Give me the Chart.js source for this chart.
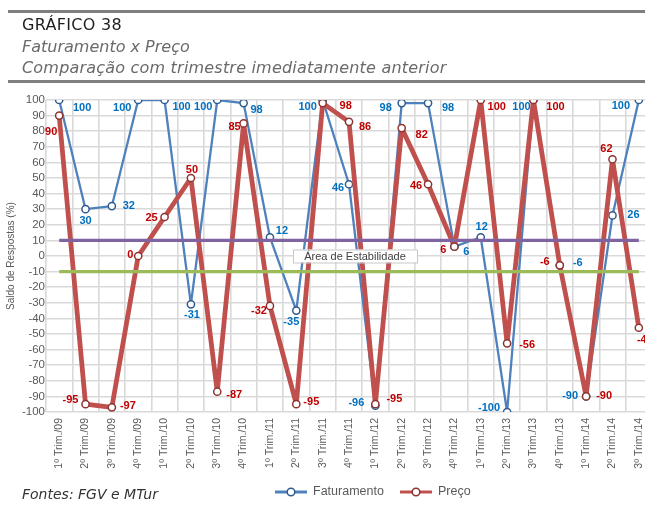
<!DOCTYPE html>
<html>
<head>
<meta charset="utf-8">
<script src="https://cdn.jsdelivr.net/npm/chart.js@4"></script>
<style>
  html, body { margin: 0; padding: 0; background: #fff; overflow: hidden; }
  #wrap { position: relative; width: 645px; height: 507px; overflow: hidden; }
  #grafico { position: absolute; left: 0; top: 0; }
  .regua { position: absolute; left: 8px; width: 660px; height: 3px; background: #7f7f7f; }
  .txt { position: absolute; left: 22px; white-space: nowrap; font-family: "DejaVu Sans", sans-serif; }
  #titulo { top: 15px; font-size: 16px; letter-spacing: 0.3px; color: #1e1e1e; }
  #sub1 { top: 37px; font-size: 16px; font-style: italic; color: #6a6a6a; }
  #sub2 { top: 58px; font-size: 16px; letter-spacing: 0.2px; font-style: italic; color: #6a6a6a; }
  #fonte { top: 486px; font-size: 14px; font-style: italic; color: #333; }
</style>
</head>
<body>
<div id="wrap">
  <canvas id="grafico" width="660" height="507"></canvas>
  <div class="regua" style="top:10px"></div>
  <div class="txt" id="titulo">GRÁFICO 38</div>
  <div class="txt" id="sub1">Faturamento x Preço</div>
  <div class="txt" id="sub2">Comparação com trimestre imediatamente anterior</div>
  <div class="regua" style="top:80px"></div>
  <div class="txt" id="fonte">Fontes: FGV e MTur</div>
</div>
<script>
const categorias = ['1º Trim./09', '2º Trim./09', '3º Trim./09', '4º Trim./09',
  '1º Trim./10', '2º Trim./10', '3º Trim./10', '4º Trim./10',
  '1º Trim./11', '2º Trim./11', '3º Trim./11', '4º Trim./11',
  '1º Trim./12', '2º Trim./12', '3º Trim./12', '4º Trim./12',
  '1º Trim./13', '2º Trim./13', '3º Trim./13', '4º Trim./13',
  '1º Trim./14', '2º Trim./14', '3º Trim./14'];
const faturamento = [100, 30, 32, 100, 100, -31, 100, 98, 12, -35, 100, 46, -96, 98, 98, 6, 12, -100, 100, -6, -90, 26, 100];
const preco = [90, -95, -97, 0, 25, 50, -87, 85, -32, -95, 98, 86, -95, 82, 46, 6, 100, -56, 100, -6, -90, 62, -46];
const limiteSuperior = 10;
const limiteInferior = -10;
const eixoMin = -100, eixoMax = 100, eixoPasso = 10;

// deslocamento de cada rótulo em relação ao ponto (px)
const posFat = [[23,8],[0,12],[17,0],[-16,8],[17,7],[1,11],[-14,7],[13,7],[12,-6],[-5,11],[-15,7],[-11,4],
  [-19,-3],[-16,5],[20,5],[12,5],[1,-10],[-18,-4],[-12,7],[18,-2],[-16,0],[21,0],[-18,6]];
const posPreco = [[-8,16],[-15,-4],[16,-1],[-8,-1],[-13,1],[1,-8],[17,3],[-9,4],[-11,5],[15,-2],[23,3],[16,5],
  [19,-5],[20,7],[-12,2],[-11,3],[16,7],[20,2],[22,7],[-15,-3],[18,0],[-6,-10],[6,12]];

const AZUL = '#4f81bd', VERMELHO = '#c0504d';
const FONTE = '"Liberation Sans", Arial, sans-serif';

const rotulos = {
  id: 'rotulos',
  afterDatasetsDraw(chart) {
    const ctx = chart.ctx;
    ctx.save();
    ctx.font = 'bold 11px ' + FONTE;
    ctx.textAlign = 'center';
    ctx.textBaseline = 'middle';
    [[0, posFat, '#0070c0'], [1, posPreco, '#c00000']].forEach(([i, pos, cor]) => {
      const meta = chart.getDatasetMeta(i);
      const valores = chart.data.datasets[i].data;
      ctx.fillStyle = cor;
      meta.data.forEach((p, j) => ctx.fillText(String(valores[j]), p.x + pos[j][0], p.y + pos[j][1]));
    });
    ctx.restore();
  }
};

const estabilidade = {
  id: 'estabilidade',
  afterDatasetsDraw(chart) {
    const ctx = chart.ctx;
    const x = chart.scales.x.getPixelForValue(11) + 6;
    const y = chart.scales.y.getPixelForValue(0);
    ctx.save();
    ctx.font = '11px ' + FONTE;
    ctx.fillStyle = '#fff';
    ctx.fillRect(x - 62, y - 6.5, 124, 13);
    ctx.strokeStyle = '#c8c8c8';
    ctx.lineWidth = 1;
    ctx.strokeRect(x - 62 + 0.5, y - 6.5 + 0.5, 124, 13);
    ctx.fillStyle = '#404040';
    ctx.textAlign = 'center';
    ctx.textBaseline = 'middle';
    ctx.fillText('Área de Estabilidade', x, y + 0.5);
    ctx.restore();
  }
};

const legenda = {
  id: 'legenda',
  afterDraw(chart) {
    const ctx = chart.ctx;
    const itens = [[275, 0], [400, 1]];
    ctx.save();
    ctx.font = '12.5px ' + FONTE;
    ctx.textBaseline = 'middle';
    itens.forEach(([x, i]) => {
      const ds = chart.data.datasets[i];
      const y = 492;
      ctx.strokeStyle = ds.borderColor;
      ctx.lineWidth = 3;
      ctx.beginPath(); ctx.moveTo(x, y); ctx.lineTo(x + 32, y); ctx.stroke();
      ctx.beginPath(); ctx.arc(x + 16, y, 3.8, 0, Math.PI * 2);
      ctx.fillStyle = '#fff'; ctx.fill();
      ctx.lineWidth = 1.5; ctx.strokeStyle = ds.pointBorderColor; ctx.stroke();
      ctx.fillStyle = '#595959';
      ctx.fillText(ds.label, x + 38, y);
    });
    ctx.restore();
  }
};

new Chart(document.getElementById('grafico'), {
  type: 'line',
  data: {
    labels: categorias,
    datasets: [
      { label: 'Faturamento', data: faturamento, borderColor: AZUL, borderWidth: 2.3, borderJoinStyle: 'round',
        pointBackgroundColor: '#fff', pointBorderColor: '#2f5b8f', pointBorderWidth: 1.5, pointRadius: 3.6, order: 4 },
      { label: 'Preço', data: preco, borderColor: VERMELHO, borderWidth: 4.8, borderJoinStyle: 'round',
        pointBackgroundColor: '#fff', pointBorderColor: '#8e3330', pointBorderWidth: 1.5, pointRadius: 3.6, order: 3 },
      { label: 'Limite superior', data: [{x: categorias[0], y: limiteSuperior}, {x: categorias[categorias.length - 1], y: limiteSuperior}],
        borderColor: '#8064a2', borderWidth: 3.2, pointRadius: 0, order: 2 },
      { label: 'Limite inferior', data: [{x: categorias[0], y: limiteInferior}, {x: categorias[categorias.length - 1], y: limiteInferior}],
        borderColor: '#9bbb59', borderWidth: 3.2, pointRadius: 0, order: 1 }
    ]
  },
  options: {
    responsive: false,
    animation: false,
    devicePixelRatio: 1,
    layout: { padding: { top: 100, right: 8, bottom: 0, left: 0 } },
    scales: {
      x: {
        offset: true,
        grid: { offset: true, color: '#d9d9d9', lineWidth: 1.6, drawTicks: false },
        border: { display: false },
        ticks: { color: '#595959', font: { family: FONTE, size: 10.5 },
          minRotation: 90, maxRotation: 90, padding: 6, autoSkip: false },
        afterFit: s => { s.height = 95; }
      },
      y: {
        min: eixoMin, max: eixoMax,
        grid: { color: '#d9d9d9', lineWidth: 1.6, drawTicks: false },
        border: { display: false },
        ticks: { stepSize: eixoPasso, autoSkip: false, color: '#595959', padding: 1,
          font: { family: FONTE, size: 11.5 } },
        title: { display: true, text: 'Saldo de Respostas (%)', color: '#595959', padding: { top: 5, bottom: 0 },
          font: { family: FONTE, size: 10 } },
        afterFit: s => { s.width = 46; }
      }
    },
    plugins: {
      legend: { display: false },
      tooltip: { enabled: false }
    }
  },
  plugins: [rotulos, estabilidade, legenda]
});
</script>
</body>
</html>
